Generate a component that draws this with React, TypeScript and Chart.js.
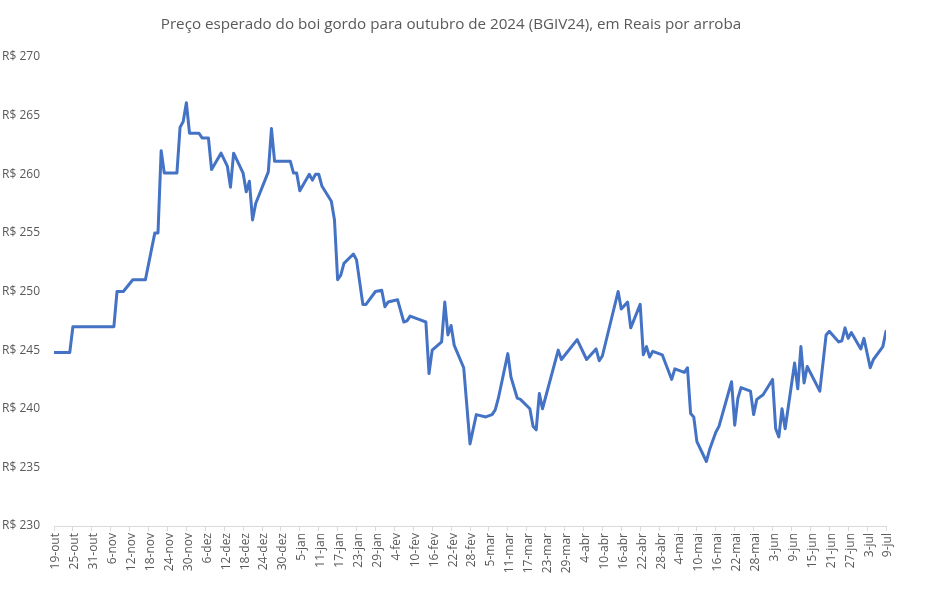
import React, { useEffect, useRef } from "react";
import { Chart, registerables } from "chart.js";

Chart.register(...registerables);

const TITLE = "Preço esperado do boi gordo para outubro de 2024 (BGIV24), em Reais por arroba";
const START_DATE = "2023-10-19";
const END_DATE = "2024-07-09";
const MONTHS_PT = ["jan", "fev", "mar", "abr", "mai", "jun", "jul", "ago", "set", "out", "nov", "dez"];
const Y_TICK_PREFIX = "R$ ";

const dates = [
  "2023-10-19", "2023-10-24", "2023-10-25", "2023-11-07", "2023-11-08", "2023-11-10", "2023-11-13", "2023-11-17",
  "2023-11-20", "2023-11-21", "2023-11-22", "2023-11-23", "2023-11-27", "2023-11-28", "2023-11-29", "2023-11-30",
  "2023-12-01", "2023-12-04", "2023-12-05", "2023-12-07", "2023-12-08", "2023-12-11", "2023-12-13", "2023-12-14",
  "2023-12-15", "2023-12-18", "2023-12-19", "2023-12-20", "2023-12-21", "2023-12-22", "2023-12-26", "2023-12-27",
  "2023-12-28", "2024-01-02", "2024-01-03", "2024-01-04", "2024-01-05", "2024-01-08", "2024-01-09", "2024-01-10",
  "2024-01-11", "2024-01-12", "2024-01-15", "2024-01-16", "2024-01-17", "2024-01-18", "2024-01-19", "2024-01-22",
  "2024-01-23", "2024-01-25", "2024-01-26", "2024-01-29", "2024-01-31", "2024-02-01", "2024-02-02", "2024-02-05",
  "2024-02-07", "2024-02-08", "2024-02-09", "2024-02-12", "2024-02-14", "2024-02-15", "2024-02-16", "2024-02-19",
  "2024-02-20", "2024-02-21", "2024-02-22", "2024-02-23", "2024-02-26", "2024-02-28", "2024-03-01", "2024-03-04",
  "2024-03-06", "2024-03-07", "2024-03-08", "2024-03-11", "2024-03-12", "2024-03-14", "2024-03-15", "2024-03-18",
  "2024-03-19", "2024-03-20", "2024-03-21", "2024-03-22", "2024-03-27", "2024-03-28", "2024-04-02", "2024-04-05",
  "2024-04-08", "2024-04-09", "2024-04-10", "2024-04-15", "2024-04-16", "2024-04-18", "2024-04-19", "2024-04-22",
  "2024-04-23", "2024-04-24", "2024-04-25", "2024-04-26", "2024-04-29", "2024-05-02", "2024-05-03", "2024-05-06",
  "2024-05-07", "2024-05-08", "2024-05-09", "2024-05-10", "2024-05-13", "2024-05-14", "2024-05-16", "2024-05-17",
  "2024-05-21", "2024-05-22", "2024-05-23", "2024-05-24", "2024-05-27", "2024-05-28", "2024-05-29", "2024-05-31",
  "2024-06-03", "2024-06-04", "2024-06-05", "2024-06-06", "2024-06-07", "2024-06-10", "2024-06-11", "2024-06-12",
  "2024-06-13", "2024-06-14", "2024-06-18", "2024-06-20", "2024-06-21", "2024-06-24", "2024-06-25", "2024-06-26",
  "2024-06-27", "2024-06-28", "2024-07-01", "2024-07-02", "2024-07-04", "2024-07-05", "2024-07-08", "2024-07-09",
];

const prices = [
  244.8, 244.8, 247.0, 247.0, 250.0, 250.0, 251.0, 251.0,
  255.0, 255.0, 262.0, 260.1, 260.1, 264.0, 264.5, 266.1,
  263.5, 263.5, 263.1, 263.1, 260.4, 261.8, 260.7, 258.9,
  261.8, 260.1, 258.5, 259.4, 256.1, 257.5, 260.2, 263.9,
  261.1, 261.1, 260.1, 260.1, 258.6, 260.0, 259.5, 260.0,
  260.0, 259.0, 257.7, 256.1, 251.0, 251.4, 252.4, 253.2,
  252.7, 248.9, 248.9, 250.0, 250.1, 248.7, 249.1, 249.3,
  247.4, 247.5, 247.9, 247.6, 247.4, 243.0, 245.0, 245.7,
  249.1, 246.3, 247.1, 245.4, 243.5, 237.0, 239.5, 239.3,
  239.5, 239.9, 240.9, 244.7, 242.7, 240.9, 240.8, 240.0,
  238.5, 238.2, 241.3, 240.0, 245.0, 244.2, 245.9, 244.2,
  245.1, 244.1, 244.5, 250.0, 248.5, 249.1, 246.9, 248.9,
  244.6, 245.3, 244.4, 244.9, 244.6, 242.5, 243.4, 243.1,
  243.5, 239.6, 239.3, 237.2, 235.5, 236.5, 238.0, 238.5,
  242.3, 238.6, 240.9, 241.8, 241.5, 239.5, 240.8, 241.2,
  242.5, 238.3, 237.6, 240.0, 238.3, 243.9, 241.7, 245.3,
  242.2, 243.6, 241.5, 246.3, 246.6, 245.7, 245.8, 246.9,
  246.0, 246.5, 245.1, 246.0, 243.5, 244.2, 245.3, 246.6,
];

const Y_MIN = 230;
const Y_MAX = 270;
const Y_STEP = 5;
const X_STEP_DAYS = 6;

const DAY = 86400000;
function toUTC(s: string) {
  const [y, m, d] = s.split("-").map(Number);
  return Date.UTC(y, m - 1, d);
}
const startMs = toUTC(START_DATE);
const totalDays = Math.round((toUTC(END_DATE) - startMs) / DAY);

export default function App() {
  const ref = useRef<HTMLCanvasElement | null>(null);

  useEffect(() => {
    if (!ref.current) return;
    const points = dates.map((d, i) => ({ x: Math.round((toUTC(d) - startMs) / DAY), y: prices[i] }));
    const textColor = "#595959";

    const titlePlugin = {
      id: "customTitle",
      afterDraw(chart: any) {
        const ctx = chart.ctx;
        ctx.save();
        ctx.font = "15.2px 'Open Sans'";
        ctx.fillStyle = textColor;
        ctx.textAlign = "center";
        ctx.textBaseline = "middle";
        ctx.fillText(TITLE, 451, 25);
        ctx.restore();
      },
    };

    const chart = new Chart(ref.current, {
      type: "line",
      data: {
        datasets: [
          {
            data: points,
            borderColor: "#4472C4",
            borderWidth: 3,
            pointRadius: 0,
            tension: 0,
            borderJoinStyle: "round",
            borderCapStyle: "round",
            fill: false,
          },
        ],
      },
      options: {
        responsive: false,
        animation: false,
        layout: { padding: { top: 57, right: 62, left: 0, bottom: 0 } },
        plugins: { legend: { display: false }, tooltip: { enabled: false }, title: { display: false } },
        scales: {
          x: {
            type: "linear",
            min: 0,
            max: totalDays,
            afterFit(scale: any) {
              scale.height = 63;
            },
            ticks: {
              stepSize: X_STEP_DAYS,
              autoSkip: false,
              minRotation: 90,
              maxRotation: 90,
              labelOffset: 2,
              color: textColor,
              font: { family: "'Open Sans'", size: 12 },
              padding: 2,
              callback: (v: any) => {
                const d = new Date(startMs + Number(v) * DAY);
                return `${d.getUTCDate()}-${MONTHS_PT[d.getUTCMonth()]}`;
              },
            },
            grid: { drawOnChartArea: false, drawTicks: true, tickLength: 5, color: "#d9d9d9" },
            border: { display: true, color: "#d9d9d9", width: 1 },
          },
          y: {
            min: Y_MIN,
            max: Y_MAX,
            afterFit(scale: any) {
              scale.width = 54;
            },
            ticks: {
              stepSize: Y_STEP,
              color: textColor,
              font: { family: "'Open Sans'", size: 12 },
              padding: 14,
              callback: (v: any) => `${Y_TICK_PREFIX}${v}`,
            },
            grid: { display: false, drawTicks: false },
            border: { display: false },
          },
        },
      },
      plugins: [titlePlugin],
    } as any);

    return () => chart.destroy();
  }, []);

  return (
    <div style={{ position: "fixed", left: 0, top: 0, width: 948, height: 589, background: "#fff" }}>
      <canvas ref={ref} width={948} height={589} style={{ width: 948, height: 589, display: "block" }} />
    </div>
  );
}
